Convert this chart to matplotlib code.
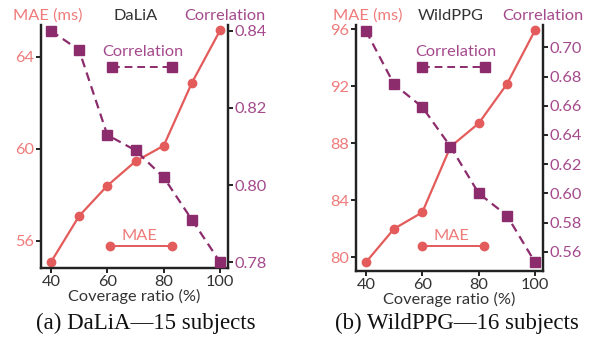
import matplotlib
matplotlib.use("Agg")
import matplotlib.pyplot as plt

# ── Data ────────────────────────────────────────────
coverage = [40, 50, 60, 70, 80, 90, 100]

dalia_mae = [55.06, 57.07, 58.39, 59.45, 60.13, 62.87, 65.15]
dalia_corr = [0.840, 0.835, 0.813, 0.809, 0.802, 0.791, 0.780]

wild_mae = [79.65, 82.0, 83.15, 87.75, 89.39, 92.14, 95.92]
wild_corr = [0.7114, 0.6747, 0.6591, 0.632, 0.600, 0.5848, 0.5527]

dalia_mae_ticks = [56, 60, 64]
dalia_corr_ticks = [0.78, 0.80, 0.82, 0.84]
wild_mae_ticks = [80, 84, 88, 92, 96]
wild_corr_ticks = [0.56, 0.58, 0.60, 0.62, 0.64, 0.66, 0.68, 0.70]
x_ticks = [40, 60, 80, 100]

# ── Style ───────────────────────────────────────────
MAE_LINE = "#e35b5b"
MAE_TEXT = "#ef7b7b"
CORR_LINE = "#8c2c6c"
CORR_TEXT = "#a44a8c"
SPINE = "#222222"
FONT = "Lato"
FS = 11.8

plt.rcParams["font.family"] = [FONT, "DejaVu Sans"]


def draw_panel(fig, rect, mae, corr, mae_ticks, corr_ticks, mae_lim, corr_lim,
               name, caption, leg):
    ax = fig.add_axes(rect)
    ax2 = ax.twinx()

    ax.plot(coverage, mae, color=MAE_LINE, lw=1.6, marker="o", ms=6, zorder=3)
    ax2.plot(coverage, corr, color=CORR_LINE, lw=1.6, ls=(0, (4, 2.5)),
             marker="s", ms=6.5, zorder=3)

    ax.set_xlim(36.5, 102.8)
    ax.set_ylim(*mae_lim)
    ax2.set_ylim(*corr_lim)
    ax.set_xticks(x_ticks)
    ax.set_yticks(mae_ticks)
    ax2.set_yticks(corr_ticks)
    ax2.set_yticklabels([f"{t:.2f}" for t in corr_ticks])

    for a in (ax, ax2):
        a.spines["top"].set_visible(False)
        for s in ("left", "right", "bottom"):
            a.spines[s].set_linewidth(1.6)
            a.spines[s].set_color(SPINE)
        a.tick_params(direction="out", length=3.5, width=1.4, color=SPINE,
                      labelsize=FS, pad=1.5)
    ax.tick_params(axis="y", labelcolor=MAE_TEXT)
    ax.tick_params(axis="x", labelcolor="#333333", pad=1.5)
    ax2.tick_params(axis="y", labelcolor=CORR_TEXT)

    ax.set_xlabel("Coverage ratio (%)", fontsize=FS, color="#333333", labelpad=0)

    # headers above the axes
    ax.text(leg["mae_head"], 1.037, "MAE (ms)", transform=ax.transAxes,
            ha="center", va="center", color=MAE_TEXT, fontsize=FS)
    ax.text(0.505, 1.037, name, transform=ax.transAxes,
            ha="center", va="center", color="#333333", fontsize=FS)
    ax.text(leg["corr_head"], 1.037, "Correlation", transform=ax.transAxes,
            ha="center", va="center", color=CORR_TEXT, fontsize=FS)

    # in-axes legends
    cx, cy, ctx, cty = leg["corr"]
    ax.plot(cx, [cy, cy], transform=ax.transAxes, color=CORR_LINE, lw=1.4,
            ls=(0, (4, 2.5)), marker="s", ms=6.5, clip_on=False)
    ax.text(ctx, cty, "Correlation", transform=ax.transAxes, ha="center",
            va="center", color=CORR_TEXT, fontsize=FS)
    mx, my, mtx, mty = leg["mae"]
    ax.plot(mx, [my, my], transform=ax.transAxes, color=MAE_LINE, lw=1.4,
            marker="o", ms=6, clip_on=False)
    ax.text(mtx, mty, "MAE", transform=ax.transAxes, ha="center",
            va="center", color=MAE_TEXT, fontsize=FS)

    fig.text(caption[1], 0.062, caption[0], ha="center", va="center",
             family=["Liberation Serif"], fontsize=16.5, color="#111111")
    return ax, ax2


fig = plt.figure(figsize=(5.96, 3.45), dpi=100)

draw_panel(
    fig, [0.0688, 0.2232, 0.3138, 0.7043],
    dalia_mae, dalia_corr, dalia_mae_ticks, dalia_corr_ticks,
    (54.81, 65.38), (0.7785, 0.8415), "DaLiA",
    ("(a) DaLiA\u201415 subjects", 0.245),
    {"mae_head": 0.037, "corr_head": 0.984,
     "corr": ([0.38, 0.70], 0.827, 0.545, 0.889),
     "mae": ([0.369, 0.70], 0.0905, 0.524, 0.132)},
)

draw_panel(
    fig, [0.5973, 0.2145, 0.3138, 0.713],
    wild_mae, wild_corr, wild_mae_ticks, wild_corr_ticks,
    (79.04, 96.28), (0.5468, 0.7153), "WildPPG",
    ("(b) WildPPG\u201416 subjects", 0.767),
    {"mae_head": 0.064, "corr_head": 1.0,
     "corr": ([0.353, 0.69], 0.829, 0.535, 0.89),
     "mae": ([0.353, 0.684], 0.1016, 0.508, 0.142)},
)

fig.savefig("out.png", dpi=100, facecolor="white")
